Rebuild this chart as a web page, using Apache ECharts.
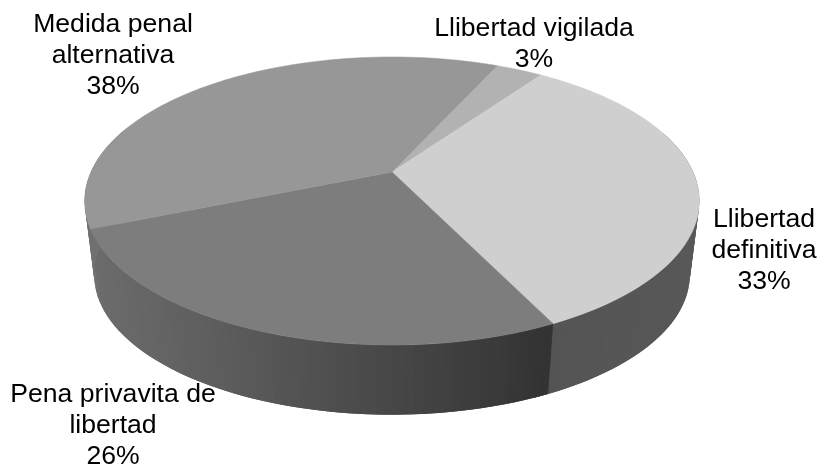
<!DOCTYPE html>
<html>
<head>
<meta charset="utf-8">
<style>
  html, body { margin: 0; padding: 0; background: #fff; }
  #chart { width: 819px; height: 466px; }
</style>
<script src="https://cdn.jsdelivr.net/npm/echarts@6/dist/echarts.min.js"></script>
</head>
<body>
<div id="chart"></div>
<script>
// slices clockwise, starting at firstAngle
var categories = ['Llibertad vigilada', 'Llibertad\ndefinitiva', 'Pena privavita de\nlibertad', 'Medida penal\nalternativa'];
var values = [3, 33, 26, 38];

var firstAngle = 24.4;
var topColors = ['#b2b2b2', '#cfcfcf', '#7d7d7d', '#979797'];
// side wall shade, from the slice's left x to its right x
var sideColors = [[120, 120], [84, 88], [108, 50], [112, 112]];
var labelAt = [[534, 44], [764, 251], [113, 426], [113, 56]];

// tilted disc, the far side shrinks
var disc = { cx: 392, cy: 172, rx: 301, ry: 138.2, k: 0.2014 };
var floorDisc = { cx: 392, cy: 247, rx: 301 * 0.969, ry: 138.2 * 0.969, k: 0.2014 };

var total = values.reduce(function (a, b) { return a + b; }, 0);

function sliceAngles(i) {
    var before = 0;
    for (var j = 0; j < i; j++) before += values[j];
    return [firstAngle + before / total * 360, firstAngle + (before + values[i]) / total * 360];
}

function project(d, deg) {
    var t = deg * Math.PI / 180;
    var w = 1 + d.k * Math.cos(t);
    return [d.cx + d.rx * Math.sin(t) / w, d.cy - d.ry * Math.cos(t) / w];
}

function grey(n) {
    var h = Math.round(n).toString(16);
    if (h.length < 2) h = '0' + h;
    return '#' + h + h + h;
}

function renderSide(params, api) {
    var i = params.dataIndex;
    var a = sliceAngles(i);
    var left = project(disc, a[0])[0], right = left;
    var deg, p;
    for (deg = a[0]; deg <= a[1]; deg += 1) {
        p = project(disc, deg)[0];
        if (p < left) left = p;
        if (p > right) right = p;
    }
    var children = [];
    var step = 1.5;
    for (deg = a[0]; deg < a[1]; deg += step) {
        // only the near half shows, the back would peek out behind the top
        if (Math.cos(deg * Math.PI / 180) > 0.3) continue;
        // strips overlap the next one so no seams show
        var next = deg + step * 2;
        var p1 = project(disc, deg), p2 = project(disc, next);
        var q2 = project(floorDisc, next), q1 = project(floorDisc, deg);
        var f = (p1[0] + p2[0]) / 2;
        f = right > left ? (f - left) / (right - left) : 0;
        f = Math.max(0, Math.min(1, f));
        var c = grey(sideColors[i][0] + (sideColors[i][1] - sideColors[i][0]) * f);
        children.push({
            type: 'polygon',
            shape: { points: [p1, p2, q2, q1] },
            style: { fill: c }
        });
    }
    return { type: 'group', children: children };
}

function renderTop(params, api) {
    var i = params.dataIndex;
    var a = sliceAngles(i);
    var points = [[disc.cx, disc.cy]];
    for (var deg = a[0]; deg < a[1]; deg += 1) points.push(project(disc, deg));
    points.push(project(disc, a[1]));
    return {
        type: 'polygon',
        shape: { points: points },
        style: { fill: topColors[i], stroke: topColors[i], lineWidth: 0.5 }
    };
}

function renderLabel(params, api) {
    var i = params.dataIndex;
    return {
        type: 'text',
        x: labelAt[i][0],
        y: labelAt[i][1],
        style: {
            text: categories[i] + '\n' + api.value(0) + '%',
            fill: '#000',
            font: '26.6px "Liberation Sans", Arial, sans-serif',
            lineHeight: 31,
            align: 'center',
            verticalAlign: 'middle'
        }
    };
}

var chart = echarts.init(document.getElementById('chart'), null, { renderer: 'canvas' });
chart.setOption({
    animation: false,
    backgroundColor: '#fff',
    series: [
        { type: 'custom', coordinateSystem: 'none', z: 1, data: values, renderItem: renderSide, silent: true },
        { type: 'custom', coordinateSystem: 'none', z: 2, data: values, renderItem: renderTop, silent: true },
        { type: 'custom', coordinateSystem: 'none', z: 3, data: values, renderItem: renderLabel, silent: true }
    ]
});
</script>
</body>
</html>
